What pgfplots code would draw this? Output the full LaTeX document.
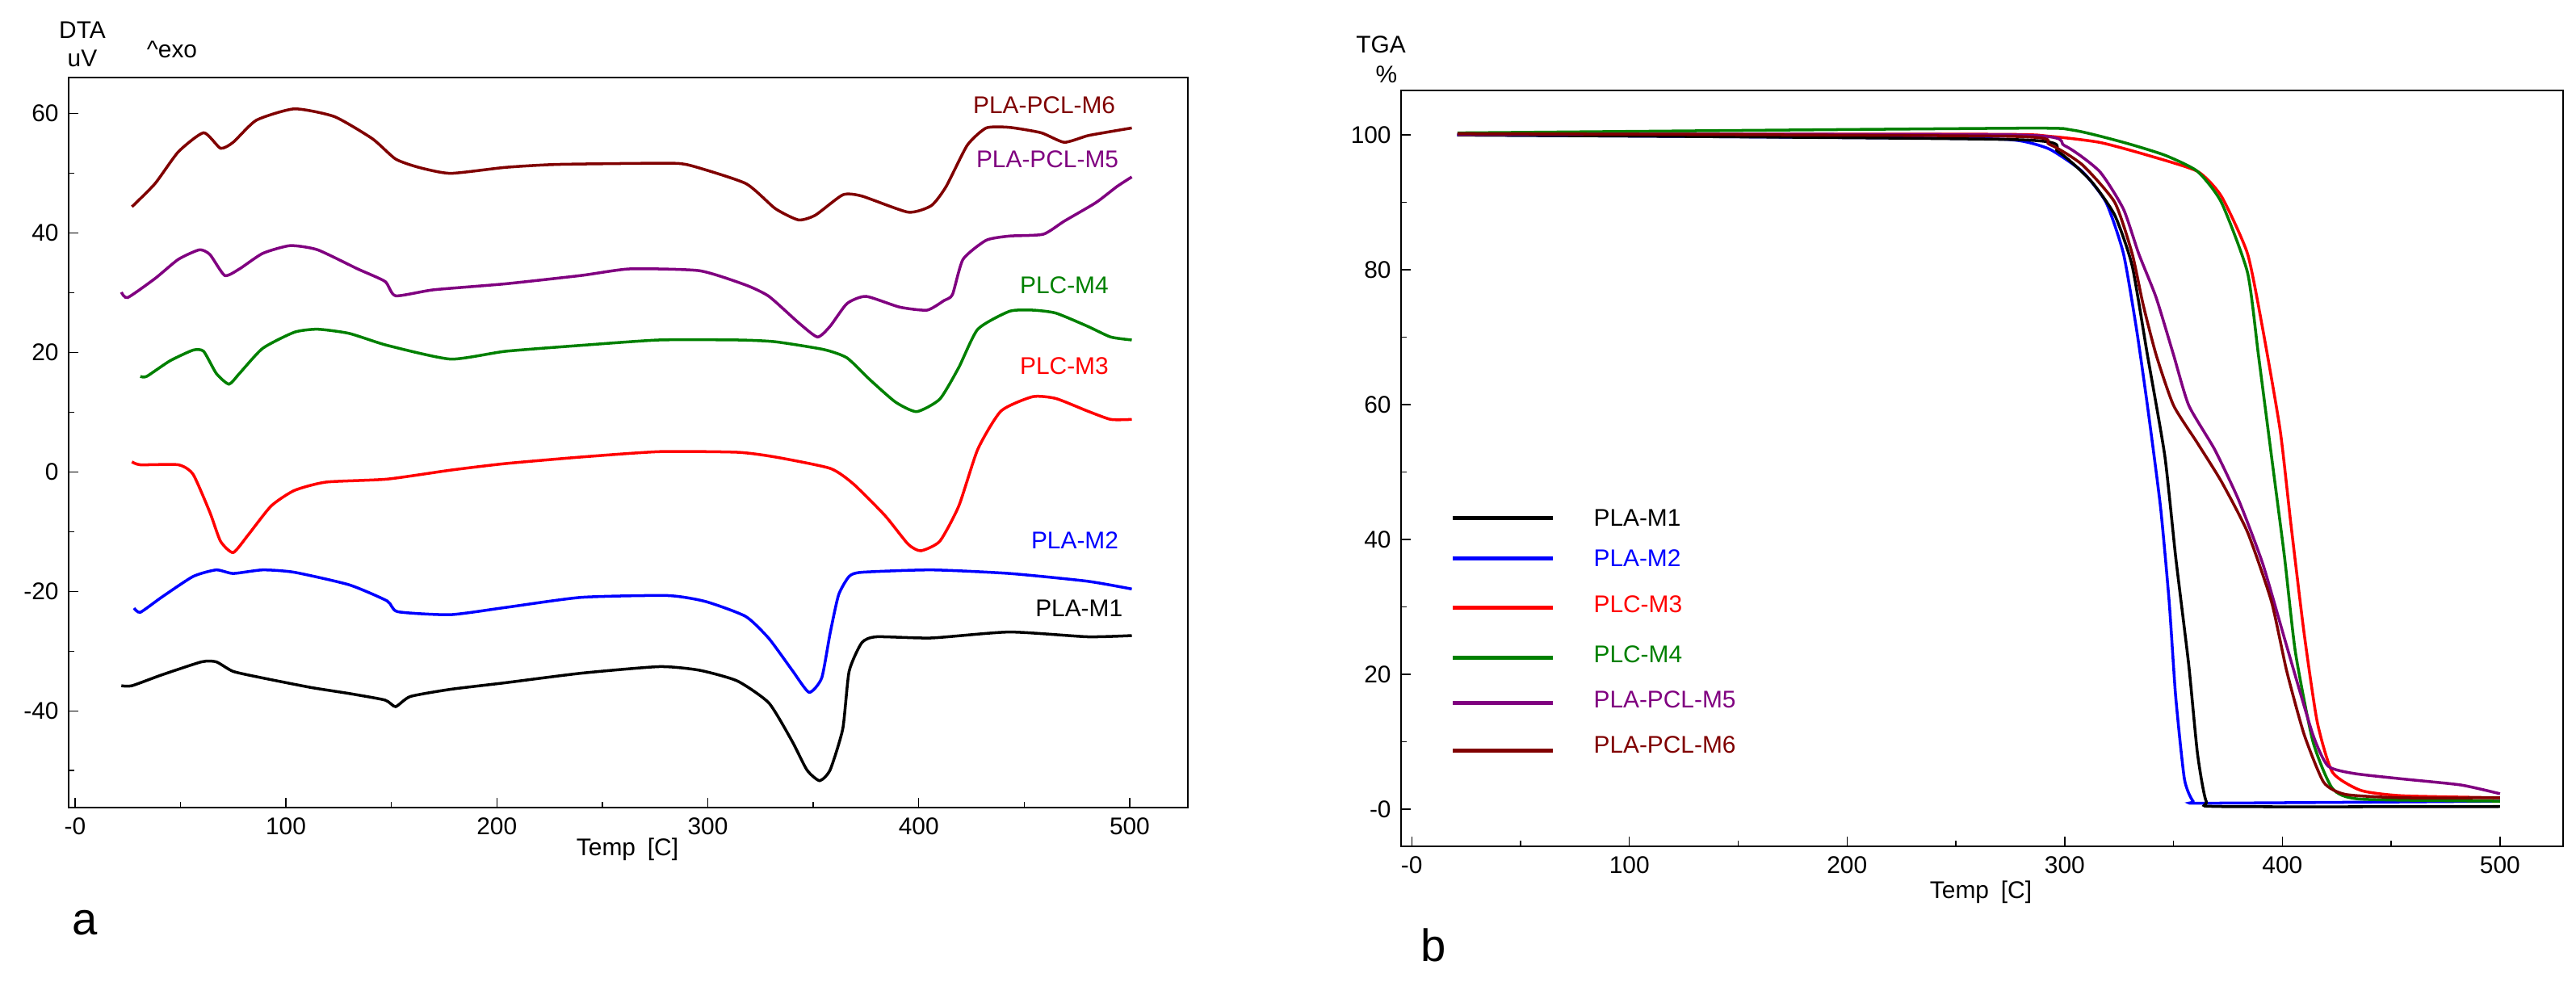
\documentclass[border=0pt]{standalone}
\usepackage{pgfplots}
\pgfplotsset{compat=1.18}
\usepackage{fontspec}
\setmainfont{Liberation Sans}
\definecolor{dred}{RGB}{128,0,0}
\definecolor{purp}{RGB}{128,0,128}
\definecolor{grn}{RGB}{0,128,0}
\definecolor{red}{RGB}{255,0,0}
\definecolor{blu}{RGB}{0,0,255}
\begin{document}
\begin{tikzpicture}[font=\fontsize{8.5}{10}\selectfont]
\path (0,0) rectangle (31.9,12.15);
\pgfplotsset{every axis/.style={scale only axis, anchor=south west,
  tick align=inside, xtick pos=bottom, ytick pos=left, axis line style={line width=0.5pt},
  /pgf/number format/assume math mode=true, tick style={black,line width=0.4pt},
  major tick length=0.12cm, minor tick length=0.07cm,
  every axis plot/.append style={line width=1pt},
  xtick={0,100,200,300,400,500}, xticklabels={-0,100,200,300,400,500},
  minor xtick={50,150,250,350,450}, clip=false},
  sm/.style={smooth, tension=0.35}}
\begin{axis}[at={(0.85cm,2.15cm)}, width=13.86cm, height=9.04cm,
  xmin=-3, xmax=527.6, ymin=-56.2, ymax=66.05,
  ytick={-40,-20,0,20,40,60}, minor ytick={-50,-30,-10,10,30,50}]
\addplot[dred,sm] coordinates {(27,44.4)(38,48.3)(49,53.6)(61,56.8)(69,54.2)(75,55.2)(86,58.9)(104,60.8)(123,59.5)(141,55.8)(152,52.4)(163,51)(178,50)(204,51)(229,51.5)(281,51.7)(292,51.3)(318,48.3)(332,44.1)(343,42.2)(351,43)(364,46.4)(373,46.2)(395,43.5)(406,44.6)(413,47.8)(423,54.7)(432,57.6)(443,57.7)(458,56.8)(469,55.2)(480,56.3)(491,57)(501,57.6)};
\addplot[purp,sm] coordinates {(22,30.1)(25,29.2)(38,32.4)(49,35.6)(59,37.2)(64,36.4)(71,32.9)(78,34)(89,36.6)(102,37.9)(115,37.2)(134,34)(147,31.9)(152,29.5)(170,30.5)(204,31.5)(240,32.9)(263,34)(296,33.7)(318,31.3)(329,29.4)(343,25)(352,22.6)(358,24.4)(366,28.2)(375,29.4)(391,27.6)(404,27.1)(412,28.7)(416,29.7)(421,35.6)(432,38.8)(443,39.5)(459,39.8)(469,42)(484,45.1)(494,47.8)(501,49.4)};
\addplot[grn,sm] coordinates {(31,16)(34,16)(45,18.6)(56,20.4)(61,20.2)(67,16.5)(73,14.7)(78,16.5)(89,20.7)(104,23.4)(115,23.9)(130,23.2)(148,21.2)(178,18.9)(204,20.2)(240,21.2)(277,22.1)(314,22.1)(332,21.8)(355,20.5)(366,19.1)(377,15.4)(389,11.7)(399,10.1)(410,12.2)(419,17.5)(428,23.9)(443,26.9)(454,27.1)(465,26.6)(480,24.4)(491,22.6)(501,22.1)};
\addplot[red,sm] coordinates {(27,1.7)(31,1.2)(49,1.2)(56,-0.4)(64,-6.8)(69,-11.6)(75,-13.5)(82,-10.6)(93,-5.7)(104,-3.1)(119,-1.7)(148,-1.2)(178,0.3)(204,1.4)(240,2.5)(277,3.4)(314,3.3)(332,2.5)(358,0.6)(369,-2)(384,-7.3)(395,-12.1)(401,-13.2)(410,-11.6)(419,-5.7)(428,3.8)(439,10.2)(454,12.6)(465,12.3)(480,10.2)(491,8.8)(501,8.8)};
\addplot[blu,sm] coordinates {(28,-22.8)(31,-23.5)(41,-21)(56,-17.5)(67,-16.4)(75,-17)(89,-16.4)(104,-16.8)(130,-18.9)(148,-21.6)(153,-23.4)(178,-23.9)(204,-22.7)(240,-21)(281,-20.7)(299,-21.7)(318,-24.2)(329,-27.9)(340,-33.2)(348,-36.9)(354,-34.5)(358,-27)(362,-20.6)(367,-17.5)(373,-16.8)(406,-16.4)(443,-17)(480,-18.3)(501,-19.6)};
\addplot[black,sm] coordinates {(22,-35.8)(27,-35.8)(41,-34)(60,-31.8)(67,-31.8)(75,-33.4)(89,-34.5)(112,-36.1)(130,-37.1)(147,-38.2)(152,-39.3)(159,-37.6)(178,-36.4)(204,-35.3)(240,-33.7)(277,-32.6)(296,-33.2)(314,-35)(329,-38.7)(340,-45.1)(347,-49.9)(353,-51.7)(358,-49.9)(364,-43)(367,-33.4)(373,-28.6)(380,-27.6)(406,-27.8)(443,-26.8)(480,-27.6)(501,-27.4)};
\node[dred] at (axis cs:459.5,61.4) {PLA-PCL-M6};
\node[purp] at (axis cs:461,52.4) {PLA-PCL-M5};
\node[grn] at (axis cs:469,31.3) {PLC-M4};
\node[red] at (axis cs:469,17.8) {PLC-M3};
\node[blu] at (axis cs:474,-11.4) {PLA-M2};
\node[black] at (axis cs:476,-22.8) {PLA-M1};
\end{axis}
\begin{axis}[at={(17.35cm,1.67cm)}, width=14.39cm, height=9.36cm,
  xmin=-4.9, xmax=529, ymin=-5.5, ymax=106.6,
  ytick={0,20,40,60,80,100}, yticklabels={-0,20,40,60,80,100}, minor ytick={10,30,50,70,90}]
\addplot[blu,sm] coordinates {(20.8,100)(247.5,99.5)(278,99.2)(293,97.9)(308,94.6)(319,90)(327,82.4)(333,71.2)(338,59.9)(344,44.9)(348,30.8)(351,16.7)(355,4.5)(359,1.2)(365,0.9)(500,1.2)};
\addplot[black,sm] coordinates {(21,100)(278,99.3)(297,97.5)(312,93.2)(323,88.1)(331,80.6)(338,67.4)(346,52.4)(351,37.4)(357,21.4)(361,8.3)(365,1.2)(372,0.4)(500,0.4)};
\addplot[red,sm] coordinates {(21,100.1)(266,100.1)(293,99.8)(316,98.9)(338,97)(361,94.6)(372,90.9)(384,82.4)(391,71.2)(399,56.2)(404,42.1)(410,26.1)(416,13)(423,5.5)(436,2.8)(455,2)(500,1.7)};
\addplot[grn,sm] coordinates {(21,100.3)(278,101)(304,100.7)(327,98.9)(346,97)(361,94.6)(372,90)(384,79.6)(389,67.4)(395,52.4)(401,37.4)(406,23.3)(414,10.1)(423,3.1)(436,1.5)(500,1.2)};
\addplot[purp,sm] coordinates {(21,100.1)(278,100)(300,98.4)(316,94.6)(327,89)(334,82.4)(342,75.9)(350,67.4)(357,59.9)(369,53.3)(380,45.8)(391,36.4)(402,24.2)(414,11.1)(421,6.4)(433,5.3)(455,4.5)(482,3.6)(500,2.3)};
\addplot[dred,sm] coordinates {(21,100.2)(274,99.8)(293,98.6)(308,95.6)(323,90)(331,82.4)(336,74.9)(342,67.4)(350,59.9)(361,54.3)(372,48.6)(384,41.1)(395,30.8)(402,20.5)(410,11.1)(419,4)(429,2.2)(455,1.7)(500,1.7)};
\addplot[black,line width=1.4pt] coordinates {(19,43.2)(65,43.2)};
\addplot[blu,line width=1.4pt] coordinates {(19,37.2)(65,37.2)};
\addplot[red,line width=1.4pt] coordinates {(19,29.9)(65,29.9)};
\addplot[grn,line width=1.4pt] coordinates {(19,22.5)(65,22.5)};
\addplot[purp,line width=1.4pt] coordinates {(19,15.8)(65,15.8)};
\addplot[dred,line width=1.4pt] coordinates {(19,8.7)(65,8.7)};
\node[anchor=west,black] at (axis cs:79,43.2) {PLA-M1};
\node[anchor=west,blu] at (axis cs:79,37.2) {PLA-M2};
\node[anchor=west,red] at (axis cs:79,30.4) {PLC-M3};
\node[anchor=west,grn] at (axis cs:79,23) {PLC-M4};
\node[anchor=west,purp] at (axis cs:79,16.3) {PLA-PCL-M5};
\node[anchor=west,dred] at (axis cs:79,9.6) {PLA-PCL-M6};
\end{axis}
\node at (7.77,1.63) {Temp\enspace[C]};
\node at (24.53,1.1) {Temp\enspace[C]};
\node at (1.02,11.78) {DTA};
\node at (1.02,11.43) {uV};
\node at (2.13,11.54) {\^{}exo};
\node at (17.1,11.6) {TGA};
\node at (17.17,11.23) {\%};
\node[font=\fontsize{16}{18}\selectfont] at (1.05,0.72) {a};
\node[font=\fontsize{16}{18}\selectfont] at (17.75,0.45) {b};
\end{tikzpicture}
\end{document}
